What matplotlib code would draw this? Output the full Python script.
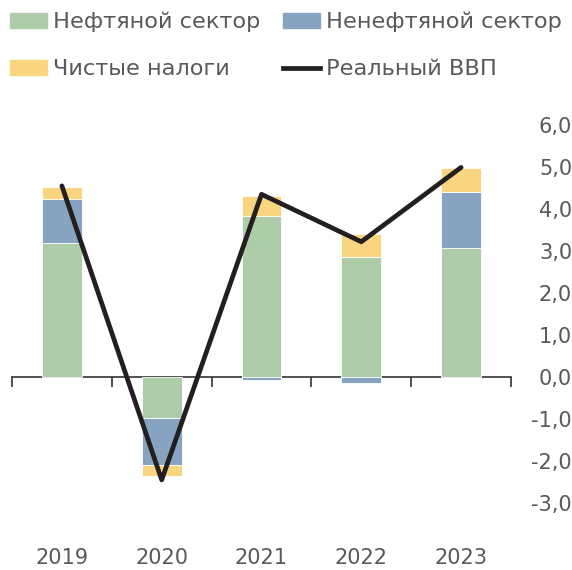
import numpy as np
import matplotlib
matplotlib.use("Agg")
import matplotlib.pyplot as plt
from matplotlib.patches import Patch
from matplotlib.lines import Line2D

years = ['2019', '2020', '2021', '2022', '2023']
oil = [3.20, -0.97, 3.84, 2.86, 3.07]
non_oil = [1.03, -1.13, -0.07, -0.15, 1.34]
taxes = [0.29, -0.25, 0.48, 0.54, 0.56]
gdp = [4.55, -2.45, 4.35, 3.22, 4.99]
yticks = [-3, -2, -1, 0, 1, 2, 3, 4, 5, 6]

c_oil = '#accda7'
c_non = '#86a4c1'
c_tax = '#fad57f'
c_line = '#231f20'
c_text = '#595959'

plt.rcParams['font.family'] = ['DejaVu Sans']

fig = plt.figure(figsize=(5.72, 5.70), dpi=100)
ax = fig.add_axes([12 / 572, 46 / 570, 499 / 572, 420 / 570])

x = np.arange(len(years))
pos_bottom = np.zeros(len(years))
neg_bottom = np.zeros(len(years))
for vals, col in [(oil, c_oil), (non_oil, c_non), (taxes, c_tax)]:
    v = np.array(vals)
    b = np.where(v >= 0, pos_bottom, neg_bottom)
    ax.bar(x, v, width=0.4, bottom=b, color=col, edgecolor='white', linewidth=0.6, zorder=2)
    pos_bottom += np.where(v >= 0, v, 0)
    neg_bottom += np.where(v < 0, v, 0)

ax.plot(x, gdp, color=c_line, linewidth=3.4, zorder=4, solid_capstyle='round')

ax.set_xlim(-0.5, len(years) - 0.5)
ax.set_ylim(-3.5, 6.5)

for s in ['top', 'left', 'bottom', 'right']:
    ax.spines[s].set_visible(False)

ax.set_xticks(x)
ax.set_xticklabels(years, fontsize=15, color=c_text)
ax.tick_params(axis='x', length=0, pad=17)

ax.yaxis.tick_right()
ax.set_yticks(yticks)
ax.set_yticklabels([f'{t:.1f}'.replace('.', ',') for t in yticks], fontsize=15, color=c_text)
ax.tick_params(axis='y', length=0, pad=44)
for lab in ax.get_yticklabels():
    lab.set_horizontalalignment('right')

# zero line with boundary ticks
zero_ax = ax.secondary_xaxis(3.5 / 10)
zero_ax.spines['bottom'].set_color('#333333')
zero_ax.spines['bottom'].set_linewidth(1.2)
zero_ax.set_xticks(np.arange(-0.5, len(years), 1.0))
zero_ax.set_xticklabels([])
zero_ax.tick_params(axis='x', direction='out', length=7, width=1.2, color='#333333')

handles = [Patch(color=c_oil), Patch(color=c_non), Patch(color=c_tax),
           Line2D([0], [0], color=c_line, linewidth=3.4)]
labels = ['Нефтяной сектор', 'Ненефтяной сектор', 'Чистые налоги', 'Реальный ВВП']
order = [0, 2, 1, 3]
leg = fig.legend([handles[i] for i in order], [labels[i] for i in order],
                 ncol=2, loc='upper left', bbox_to_anchor=(0.0, 0.997),
                 frameon=False, fontsize=16.2, handlelength=1.65, handleheight=0.6,
                 handletextpad=0.25, columnspacing=1.0, labelspacing=1.2,
                 borderaxespad=0.15, borderpad=0.3)
for t in leg.get_texts():
    t.set_color(c_text)

fig.savefig('out.png', dpi=100)
